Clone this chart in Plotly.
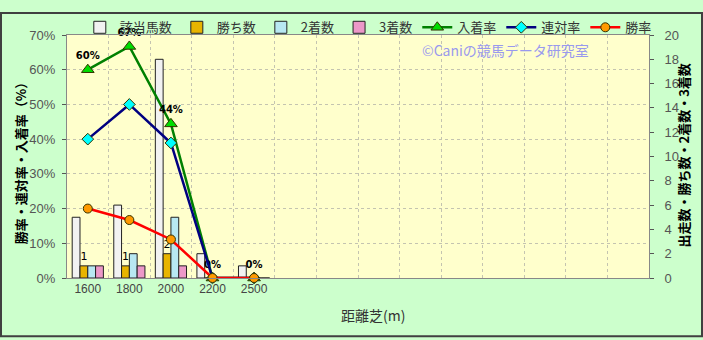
import plotly.graph_objects as go

distances = ["1600", "1800", "2000", "2200", "2500"]
n_slots = 14  # category slots shown on the x axis
runners = [5, 6, 18, 2, 1]
wins = [1, 1, 2, 0, 0]
seconds = [1, 2, 5, 0, 0]
thirds = [1, 1, 1, 0, 0]
place_rate = [0.60, 0.667, 0.444, 0.0, 0.0]
quinella_rate = [0.40, 0.50, 0.389, 0.0, 0.0]
win_rate = [0.20, 0.167, 0.111, 0.0, 0.0]

xs = list(range(len(distances)))
FONT = "Liberation Sans, Noto Sans CJK JP, sans-serif"
JP = "Noto Sans CJK JP, sans-serif"

fig = go.Figure()
bar_specs = [
    ("該当馬数", runners, "#F2F2F2"),
    ("勝ち数", wins, "#E8B400"),
    ("2着数", seconds, "#B8E8F2"),
    ("3着数", thirds, "#EC98C8"),
]
for name, vals, col in bar_specs:
    txt = [str(v) if (name == "勝ち数" and v) else "" for v in vals]
    fig.add_trace(go.Bar(
        x=xs, y=vals, name=name, yaxis="y",
        marker=dict(color=col, line=dict(color="#222222", width=1)),
        text=txt, textposition="outside", cliponaxis=False,
        textfont=dict(size=11, color="#000000", family="DejaVu Sans"),
    ))

line_specs = [
    ("入着率", place_rate, "#008000", "#00DD00", "triangle-up", 11),
    ("連対率", quinella_rate, "#000080", "#00FFFF", "diamond", 9),
    ("勝率", win_rate, "#FF0000", "#FF9900", "circle", 9),
]
for name, vals, lc, mc, sym, ms in line_specs:
    txt = [f"<b>{round(v*100)}%</b>" for v in vals] if name == "入着率" else None
    fig.add_trace(go.Scatter(
        x=xs, y=vals, name=name, yaxis="y2", mode="lines+markers" + ("+text" if txt else ""),
        line=dict(color=lc, width=2.5),
        marker=dict(symbol=sym, size=ms, color=mc, line=dict(color="#333300", width=1)),
        text=txt, textposition="top center", cliponaxis=False,
        textfont=dict(size=10, color="#000000", family="DejaVu Sans"),
    ))

W, H = 703, 340
L, R, T, B = 67, 54, 24, 62
pw, ph = W - L - R, H - T - B

fig.update_layout(
    width=W, height=H,
    margin=dict(l=L, r=R, t=T, b=B),
    paper_bgcolor="#CCFFCC", plot_bgcolor="#FFFFCC",
    barmode="group", bargap=0.25, bargroupgap=0,
    font=dict(family=FONT, size=12, color="#444444"),
    showlegend=True,
    legend=dict(orientation="h", x=0.022, xanchor="left", y=1 + 8/ph, yanchor="middle",
                bgcolor="rgba(0,0,0,0)", font=dict(size=13, family=JP, color="#333333"),
                itemwidth=30, tracegroupgap=0, traceorder="normal"),
    xaxis=dict(range=[-0.5, n_slots - 0.5], tickvals=xs, ticktext=distances,
               showgrid=False, showline=True, linecolor="#888888", mirror=True,
               ticks="", tickfont=dict(size=12, color="#444444"),
               minor=dict(tick0=0.5, dtick=1, showgrid=True, gridcolor="#C4C4B0",
                          griddash="dot", gridwidth=1),
               zeroline=False),
    yaxis=dict(range=[0, 20], dtick=2, side="right", showgrid=False,
               ticks="outside", ticklen=4, tickcolor="#555555", ticklabelstandoff=8,
               tickfont=dict(size=13, color="#555555"), showline=True,
               linecolor="#888888", zeroline=False),
    yaxis2=dict(range=[0, 0.7], dtick=0.1, tickformat=".0%", side="left",
                overlaying="y", showgrid=True, gridcolor="#C4C4B0", griddash="dot",
                ticks="outside", ticklen=4, tickcolor="#555555", ticklabelstandoff=4,
                tickfont=dict(size=13, color="#555555"), showline=True,
                linecolor="#888888", zeroline=False),
    annotations=[
        dict(text="©Caniの競馬データ研究室", xref="paper", yref="paper",
             x=(420 - L)/pw, y=1 - (40 - T)/ph, xanchor="left", yanchor="middle",
             showarrow=False, font=dict(size=14, color="#9999EE", family=JP)),
        dict(text="<b>勝率・連対率・入着率（%）</b>", xref="paper", yref="paper",
             x=(20 - L)/pw, y=1 - (155 - T)/ph, xanchor="center", yanchor="middle",
             textangle=-90, showarrow=False, font=dict(size=13, color="#000000", family=JP)),
        dict(text="<b>出走数・勝ち数・2着数・3着数</b>", xref="paper", yref="paper",
             x=(684 - L)/pw, y=1 - (150 - T)/ph, xanchor="center", yanchor="middle",
             textangle=-90, showarrow=False, font=dict(size=13, color="#000000", family=JP)),
        dict(text="距離芝(m)", xref="paper", yref="paper",
             x=(373 - L)/pw, y=1 - (317 - T)/ph, xanchor="center", yanchor="middle",
             showarrow=False, font=dict(size=14, color="#333333", family=JP)),
    ],
    shapes=[
        dict(type="rect", xref="paper", yref="paper",
             x0=(-L + 1)/pw, x1=1 + (R - 1)/pw, y0=(-B + 1)/ph, y1=1 + (T - 1)/ph,
             line=dict(color="#404040", width=2), fillcolor="rgba(0,0,0,0)", layer="below"),
    ],
)

fig.write_html("out.html")
